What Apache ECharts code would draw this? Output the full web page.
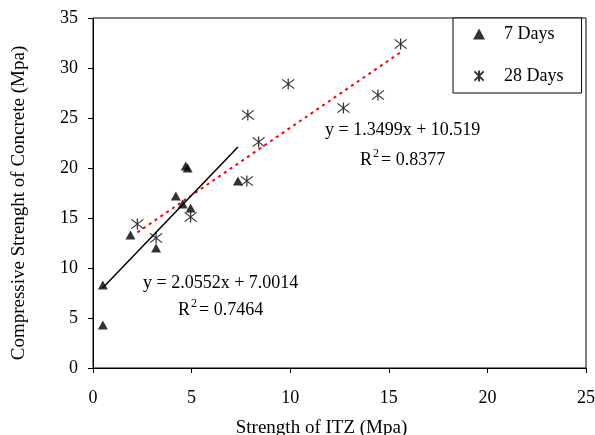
<!DOCTYPE html>
<html>
<head>
<meta charset="utf-8">
<script src="https://cdn.jsdelivr.net/npm/echarts@6/dist/echarts.min.js"></script>
<style>
  html, body { margin: 0; padding: 0; background: #fff; }
  #main { width: 595px; height: 435px; }
</style>
</head>
<body>
<div id="main"></div>
<script>
// 7 Days points (ITZ strength, concrete strength)
var days7X = [0.5, 0.5, 1.9, 3.2, 4.2, 4.55, 4.7, 4.8, 4.95, 7.35];
var days7Y = [4.3, 8.3, 13.3, 12.0, 17.2, 16.4, 20.2, 20.0, 16.0, 18.7];
// 28 Days points
var days28X = [2.25, 3.2, 4.95, 7.8, 7.85, 8.4, 9.9, 12.7, 14.45, 15.6];
var days28Y = [14.4, 13.0, 15.1, 18.7, 25.3, 22.6, 28.4, 26.0, 27.3, 32.4];
// linear trend coefficients [slope, intercept]
var trend7 = [2.0552, 7.0014];
var trend28 = [1.3499, 10.519];

var serif = 'Liberation Serif';

function pairs(xs, ys) {
    return xs.map(function (x, i) { return [x, ys[i]]; });
}
function trendLine(xs, c) {
    var x0 = Math.min.apply(null, xs), x1 = Math.max.apply(null, xs);
    return [[x0, c[0] * x0 + c[1]], [x1, c[0] * x1 + c[1]]];
}

var starPath = 'path://M0,0L10,10M10,0L0,10M5,-1L5,11';
var eqRich = {
    a: { fontSize: 18, fontFamily: serif, color: '#000', lineHeight: 24 },
    s: { fontSize: 12, fontFamily: serif, color: '#000', verticalAlign: 'top', lineHeight: 12, padding: [0, 2, 0, 1] }
};

var myChart = echarts.init(document.getElementById('main'));

var option = {
    animation: false,
    textStyle: { fontFamily: serif },
    grid: {
        left: 93, right: 9, top: 18, bottom: 67,
        outerBoundsMode: 'none',
        show: true, borderColor: '#000', borderWidth: 1
    },
    legend: {
        data: ['7 Days', '28 Days'],
        orient: 'vertical',
        left: 453,
        top: 18,
        padding: [7, 18, 8, 19],
        itemGap: 24,
        itemWidth: 12,
        itemHeight: 11,
        borderColor: '#000',
        borderWidth: 1,
        borderRadius: 0,
        backgroundColor: '#fff',
        textStyle: { fontFamily: serif, fontSize: 18, color: '#000', padding: [0, 0, 0, 14] }
    },
    xAxis: {
        type: 'value',
        min: 0, max: 25, interval: 5,
        name: 'Strength of ITZ (Mpa)',
        nameLocation: 'middle',
        nameGap: 51,
        nameTextStyle: { fontFamily: serif, fontSize: 19, color: '#000', padding: [0, 36, 0, 0] },
        axisLine: { onZero: false, lineStyle: { color: '#000', width: 1 } },
        axisTick: { show: true, inside: false, length: 5, lineStyle: { color: '#000' } },
        axisLabel: { fontFamily: serif, fontSize: 18, color: '#000', margin: 21 },
        splitLine: { show: false }
    },
    yAxis: {
        type: 'value',
        min: 0, max: 35, interval: 5,
        name: 'Compressive Strenght of Concrete (Mpa)',
        nameLocation: 'middle',
        nameGap: 64,
        nameTextStyle: { fontFamily: serif, fontSize: 19, color: '#000', padding: [0, 20, 0, 0] },
        axisLine: { show: true, lineStyle: { color: '#000', width: 1 } },
        axisTick: { show: true, inside: false, length: 5, lineStyle: { color: '#000' } },
        axisLabel: { fontFamily: serif, fontSize: 18, color: '#000', margin: 15 },
        splitLine: { show: false }
    },
    series: [
        {
            name: 'trend 28',
            type: 'line',
            data: trendLine(days28X, trend28),
            symbol: 'none',
            lineStyle: { color: '#ff0000', width: 2, type: [3, 4] },
            z: 1
        },
        {
            name: 'trend 7',
            type: 'line',
            data: trendLine(days7X, trend7),
            symbol: 'none',
            lineStyle: { color: '#000', width: 1.5 },
            z: 1
        },
        {
            name: '7 Days',
            type: 'scatter',
            data: pairs(days7X, days7Y),
            symbol: 'triangle',
            symbolSize: [10, 9],
            itemStyle: { color: '#000' },
            z: 3
        },
        {
            name: '28 Days',
            type: 'scatter',
            data: pairs(days28X, days28Y),
            symbol: starPath,
            symbolSize: [12, 11],
            itemStyle: { color: 'none', borderColor: '#000', borderWidth: 1.2 },
            z: 3
        }
    ],
    graphic: [
        { type: 'text', x: 143, y: 283, style: { text: 'y = 2.0552x + 7.0014', font: '18px "Liberation Serif"', fill: '#000', verticalAlign: 'middle' } },
        { type: 'text', x: 178, y: 310, style: { rich: eqRich, text: '{a|R}{s|2}{a|= 0.7464}', verticalAlign: 'middle' } },
        { type: 'text', x: 325, y: 130, style: { text: 'y = 1.3499x + 10.519', font: '18px "Liberation Serif"', fill: '#000', verticalAlign: 'middle' } },
        { type: 'text', x: 360, y: 160, style: { rich: eqRich, text: '{a|R}{s|2}{a|= 0.8377}', verticalAlign: 'middle' } }
    ]
};

myChart.setOption(option);
</script>
</body>
</html>
